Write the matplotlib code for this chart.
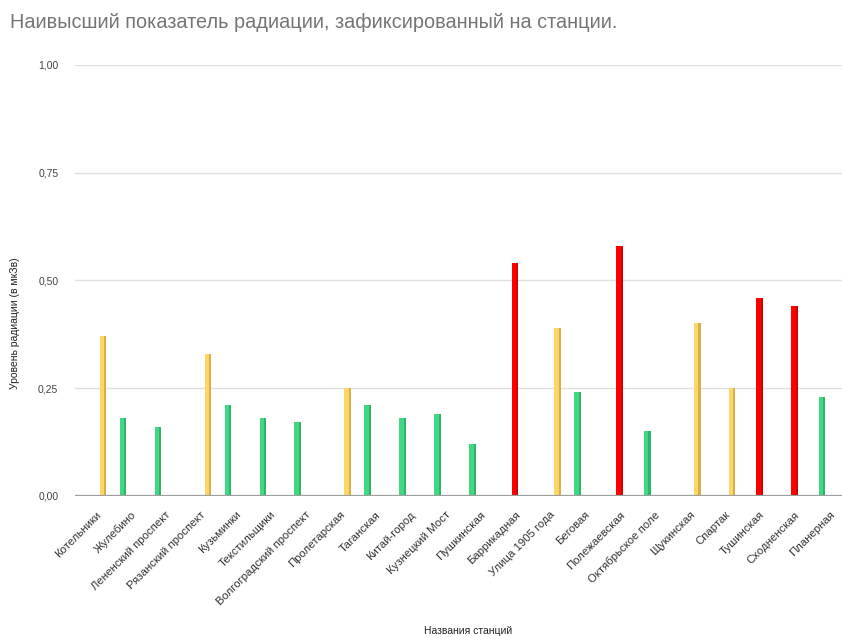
import numpy as np
import matplotlib
matplotlib.use("Agg")
import matplotlib.pyplot as plt
from matplotlib.ticker import FuncFormatter

plt.rcParams['font.family'] = ['Liberation Sans', 'DejaVu Sans']

stations = [
    "Котельники", "Жулебино", "Лененский проспект", "Рязанский проспект",
    "Кузьминки", "Текстильщики", "Волгоградский проспект", "Пролетарская",
    "Таганская", "Китай-город", "Кузнецкий Мост", "Пушкинская",
    "Баррикадная", "Улица 1905 года", "Беговая", "Полежаевская",
    "Октябрьское поле", "Щукинская", "Спартак", "Тушинская",
    "Сходненская", "Планерная",
]
radiation = [
    0.37, 0.18, 0.16, 0.33, 0.21, 0.18, 0.17, 0.25, 0.21, 0.18, 0.19,
    0.12, 0.54, 0.39, 0.24, 0.58, 0.15, 0.40, 0.25, 0.46, 0.44, 0.23,
]
# danger level of each station: 0 = low, 1 = high, 2 = medium
levels = [2, 0, 0, 2, 0, 0, 0, 2, 0, 0, 0, 0, 1, 2, 0, 1, 0, 2, 2, 1, 1, 0]

series_order = [0, 1, 2]
series_colors = {0: "#41d883", 1: "#ff0000", 2: "#ffd666"}
series_shade = {0: "#2aa862", 1: "#c40000", 2: "#c9a441"}
yticks = [0.0, 0.25, 0.5, 0.75, 1.0]

fig = plt.figure(figsize=(8.42, 6.37), dpi=100)
ax = fig.add_axes([75 / 842, 1 - 495.7 / 637, 767 / 842, (495.7 - 65) / 637])

x = np.arange(len(stations))
bar_w = 0.19
step = 0.215
for k, lvl in enumerate(series_order):
    vals = np.array([v if l == lvl else np.nan for v, l in zip(radiation, levels)])
    pos = x + (k - 1) * step
    mask = ~np.isnan(vals)
    ax.bar(pos[mask], vals[mask], width=bar_w, color=series_colors[lvl],
           zorder=3, linewidth=0)
    # darker strip on the right edge gives the bars a rounded look
    ax.bar(pos[mask] + bar_w / 2 - 0.03, vals[mask], width=0.06,
           color=series_shade[lvl], zorder=4, linewidth=0, alpha=0.75)

ax.set_xlim(-0.59, (842 - 95.5) / 34.95)
ax.set_ylim(0, 1.0)
ax.set_yticks(yticks)
ax.yaxis.set_major_formatter(FuncFormatter(lambda v, p: f"{v:.2f}".replace(".", ",")))
ax.grid(axis='y', color="#e0e0e0", linewidth=1, zorder=0)
ax.axhline(0, color="#9e9e9e", linewidth=1.6, zorder=5)
for s in ax.spines.values():
    s.set_visible(False)
ax.tick_params(axis='y', length=0, pad=12, labelsize=7.5, labelcolor="#444444")
ax.tick_params(axis='x', length=0, pad=10)
ax.set_xticks(x)
ax.set_xticklabels(stations, rotation=45, ha='right', rotation_mode='anchor',
                   fontsize=8.2, color="#333333")

fig.text(10 / 842, 1 - 22 / 637, "Наивысший показатель радиации, зафиксированный на станции.",
         fontsize=14.3, color="#757575", ha='left', va='center')
fig.text(15 / 842, 1 - 323 / 637, "Уровень радиации (в мкЗв)", rotation=90,
         fontsize=7.5, color="#222222", ha='center', va='center')
fig.text(468 / 842, 1 - 631 / 637, "Названия станций", fontsize=7.5,
         color="#222222", ha='center', va='center')

fig.savefig("out.png", dpi=100, facecolor="white")
